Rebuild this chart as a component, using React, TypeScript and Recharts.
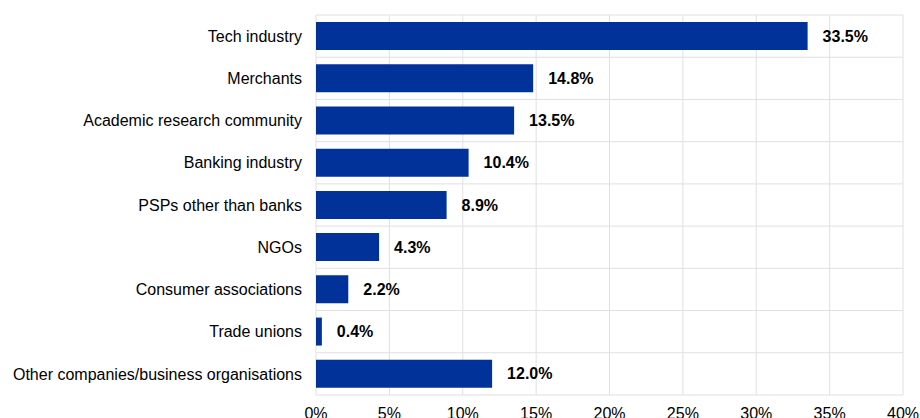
import { BarChart, Bar, XAxis, YAxis, CartesianGrid, LabelList } from 'recharts';

const categories = [
  'Tech industry',
  'Merchants',
  'Academic research community',
  'Banking industry',
  'PSPs other than banks',
  'NGOs',
  'Consumer associations',
  'Trade unions',
  'Other companies/business organisations',
];
const shares = [33.5, 14.8, 13.5, 10.4, 8.9, 4.3, 2.2, 0.4, 12.0];
const xTicks = [0, 5, 10, 15, 20, 25, 30, 35, 40];

const data = categories.map((name, i) => ({ name, value: shares[i] }));

const font = '"Liberation Sans", Arial, sans-serif';

export default function App() {
  // grid rows sit between the categories, not on them
  const rowLines = ({ offset }: any) =>
    Array.from({ length: categories.length + 1 }, (_, i) => offset.top + (offset.height * i) / categories.length);

  return (
    <div style={{ position: 'absolute', left: 0, top: 0, fontFamily: font }}>
      <BarChart
        width={920}
        height={418}
        data={data}
        layout="vertical"
        margin={{ top: 15, right: 17, bottom: 0, left: 0 }}
      >
        <CartesianGrid stroke="#e0e0e0" horizontalCoordinatesGenerator={rowLines} />
        <XAxis
          type="number"
          domain={[0, 40]}
          ticks={xTicks}
          tickFormatter={(v) => `${v}%`}
          axisLine={false}
          tickLine={false}
          tickSize={0}
          tickMargin={13}
          height={23}
          tick={{ fontSize: 16, fill: '#000', fontFamily: font }}
        />
        <YAxis
          type="category"
          dataKey="name"
          width={316}
          axisLine={false}
          tickLine={false}
          tickSize={0}
          tickMargin={14}
          interval={0}
          tick={{ fontSize: 16, fill: '#000', fontFamily: font }}
        />
        <Bar dataKey="value" fill="#003299" barSize={28} isAnimationActive={false}>
          <LabelList
            dataKey="value"
            position="right"
            offset={15}
            formatter={(v: any) => `${Number(v).toFixed(1)}%`}
            style={{ fontSize: 16, fontWeight: 'bold', fill: '#000', fontFamily: font }}
          />
        </Bar>
      </BarChart>
    </div>
  );
}
